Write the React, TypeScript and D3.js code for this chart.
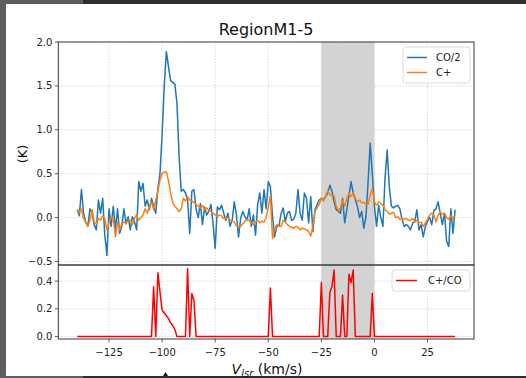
import React from "react";
import * as d3 from "d3";

// velocity grid (km/s)
const V_START = -140;
const V_END = 38;

// CO/2 (K), one value per km/s from -140 to 38
const co2: number[] = [
  0.09, 0.02, 0.32, 0.05, -0.05, -0.1, 0.1, 0.05, -0.08, -0.14,
  0.2, 0.05, 0.22, -0.2, -0.43, 0.1, -0.1, 0.13, -0.14, 0.1,
  -0.18, -0.1, 0.1, -0.07, 0.01, -0.14, 0.01, -0.05, -0.14, 0.41,
  0.3, 0.39, 0.13, 0.2, 0.09, 0.22, 0.13, 0.05, 0.33, 0.5,
  0.95, 1.5, 1.89, 1.72, 1.56, 1.54, 1.52, 1.3, 0.7, 0.3,
  0.32, 0.28, 0.2, -0.18, 0.3, 0.32, 0.1, 0.0, 0.16, -0.08,
  0.12, 0.03, 0.07, 0.15, -0.07, -0.35, 0.12, 0.09, 0.14, 0.05,
  -0.03, 0.05, -0.1, -0.03, 0.18, 0.03, -0.22, -0.01, 0.07, 0.01,
  -0.03, 0.1, -0.1, 0.03, -0.2, 0.15, 0.28, 0.05, 0.32, 0.1,
  0.41, 0.35, 0.02, -0.22, -0.1, -0.1, 0.04, 0.11, -0.05, 0.05,
  0.07, -0.03, -0.02, 0.05, 0.32, 0.05, -0.03, 0.28, 0.22, -0.06,
  0.24, -0.16, 0.09, 0.15, 0.2, 0.22, 0.2, 0.24, 0.28, 0.37,
  0.3, 0.18, 0.09, 0.07, 0.05, 0.22, -0.06, 0.09, 0.25, 0.41,
  0.28, 0.2, 0.13, 0.0, 0.07, -0.12, 0.01, 0.4, 0.85, 0.5,
  0.13, -0.1, 0.14, 0.0, -0.1, 0.45, 0.77, 0.35, 0.13, 0.11,
  0.13, 0.14, 0.1, -0.02, -0.1, -0.08, -0.1, -0.14, -0.06, -0.05,
  0.09, -0.14, -0.08, -0.22, -0.1, -0.04, 0.0, -0.08, 0.08, 0.1,
  0.18, 0.05, -0.08, 0.05, -0.27, -0.33, 0.1, -0.18, 0.09,
];

// C+ (K)
const cplus: number[] = [
  0.09, 0.05, 0.1, -0.01, -0.05, -0.1, -0.03, 0.09, -0.05, -0.07,
  -0.01, -0.03, 0.02, -0.01, -0.14, -0.06, 0.01, -0.01, -0.22, -0.05,
  -0.14, -0.07, -0.05, -0.07, -0.03, -0.03, -0.08, -0.01, 0.03, -0.03,
  0.0, 0.03, 0.1, 0.05, 0.12, 0.18, 0.09, 0.2, 0.3, 0.43,
  0.5, 0.52, 0.52, 0.42, 0.28, 0.17, 0.13, 0.1, 0.07, 0.1,
  0.22, 0.19, 0.24, 0.2, 0.19, 0.17, 0.15, 0.13, 0.11, 0.14,
  0.09, 0.11, 0.08, 0.07, 0.05, 0.03, 0.01, 0.03, 0.02, -0.01,
  -0.01, 0.0, -0.03, -0.04, -0.05, -0.1, -0.1, -0.1, -0.07, -0.04,
  -0.02, -0.03, -0.06, -0.08, -0.05, -0.03, -0.06, -0.04, -0.05, 0.0,
  0.12, 0.25, -0.24, -0.14, -0.08, -0.1, -0.1, -0.03, -0.05, -0.08,
  -0.1, -0.11, -0.12, -0.1, -0.11, -0.14, -0.12, -0.13, -0.14, -0.16,
  -0.21, -0.1, 0.07, 0.11, 0.15, 0.22, 0.19, 0.24, 0.31, 0.26,
  0.25, 0.25, 0.13, 0.08, 0.11, 0.2, 0.13, 0.22, 0.28, 0.24,
  0.28, 0.22, 0.18, 0.2, 0.17, 0.17, 0.15, 0.15, 0.26, 0.33,
  0.18, 0.14, 0.18, 0.16, 0.14, 0.09, 0.07, 0.04, 0.05, 0.06,
  0.0, 0.01, -0.02, -0.01, -0.02, -0.01, -0.03, -0.03, -0.01, -0.05,
  -0.03, -0.06, -0.05, -0.1, -0.06, -0.02, 0.03, 0.05, 0.03, -0.05,
  0.03, 0.06, 0.04, 0.05, 0.0, -0.02, 0.02, -0.01, 0.03,
];

// C+/CO ratio
const ratio: number[] = [
  0, 0, 0, 0, 0, 0, 0, 0, 0, 0,
  0, 0, 0, 0, 0, 0, 0, 0, 0, 0,
  0, 0, 0, 0, 0, 0, 0, 0, 0, 0,
  0, 0, 0, 0, 0, 0, 0.36, 0, 0.46, 0.32,
  0.19, 0.17, 0.15, 0.13, 0.1, 0.08, 0.05, 0, 0, 0,
  0, 0, 0.49, 0, 0.31, 0.26, 0, 0, 0, 0,
  0, 0, 0, 0, 0, 0, 0, 0, 0, 0,
  0, 0, 0, 0, 0, 0, 0, 0, 0, 0,
  0, 0, 0, 0, 0, 0, 0, 0, 0, 0,
  0, 0.35, 0, 0, 0, 0, 0, 0, 0, 0,
  0, 0, 0, 0, 0, 0, 0, 0, 0, 0,
  0, 0, 0, 0, 0, 0.39, 0, 0, 0, 0.32,
  0.36, 0.48, 0, 0, 0, 0.3, 0, 0, 0.45, 0.39,
  0.48, 0, 0, 0, 0, 0, 0, 0, 0, 0.31,
  0, 0, 0, 0, 0, 0, 0, 0, 0, 0,
  0, 0, 0, 0, 0, 0, 0, 0, 0, 0,
  0, 0, 0, 0, 0, 0, 0, 0, 0, 0,
  0, 0, 0, 0, 0, 0, 0, 0, 0,
];

const xTicks = [-125, -100, -75, -50, -25, 0, 25];
const yTopTicks = [-0.5, 0.0, 0.5, 1.0, 1.5, 2.0];
const yBotTicks = [0.0, 0.2, 0.4];
const shadeRange = [-25, 0];
const seriesNames = ["CO/2", "C+", "C+/CO"];
const titleText = "RegionM1-5";

const FONT = "'DejaVu Sans', sans-serif";

export default function App() {
  const vel = d3.range(V_START, V_END + 1);
  const x = d3.scaleLinear().domain([-148.9, 46.9]).range([58.3, 474]);
  const yTop = d3.scaleLinear().domain([-0.54, 2.0]).range([265, 42]);
  const yBot = d3.scaleLinear().domain([-0.0175, 0.514]).range([339, 265.3]);

  const lineTop = (arr: number[]) =>
    d3.line<number>().x((_, i) => x(vel[i])).y((d) => yTop(d))(arr) || "";
  const lineBot = d3.line<number>().x((_, i) => x(vel[i])).y((d) => yBot(d))(ratio) || "";

  const [xl, xr] = x.range();
  const fmt1 = d3.format(".1f");
  const minus = (s: string) => s.replace("-", "\u2212");
  const gridStyle = { stroke: "#c8c8c8", strokeWidth: 0.8, strokeDasharray: "1.2 1.6" };

  return (
    <svg width={526} height={378} style={{ position: "absolute", left: 0, top: 0 }} fontFamily={FONT}>
      <rect x={0} y={0} width={526} height={378} fill="#ffffff" />
      {/* screenshot frame */}
      <rect x={0} y={0} width={526} height={4} fill="#2d2e32" />
      <rect x={0} y={0} width={83} height={4} fill="#5c5c61" />
      <rect x={0} y={376} width={526} height={2} fill="#2d2e32" />
      <rect x={0} y={376} width={83} height={2} fill="#5c5c61" />
      <rect x={0} y={0} width={6} height={378} fill="#5c5c61" />

      {/* top axes grid */}
      {xTicks.map((t) => (
        <line key={"gx" + t} x1={x(t)} x2={x(t)} y1={42} y2={265} {...gridStyle} />
      ))}
      {yTopTicks.map((t) => (
        <line key={"gy" + t} x1={xl} x2={xr} y1={yTop(t)} y2={yTop(t)} {...gridStyle} />
      ))}
      {/* bottom axes grid */}
      {xTicks.map((t) => (
        <line key={"gbx" + t} x1={x(t)} x2={x(t)} y1={265} y2={339} {...gridStyle} />
      ))}
      {yBotTicks.map((t) => (
        <line key={"gby" + t} x1={xl} x2={xr} y1={yBot(t)} y2={yBot(t)} {...gridStyle} />
      ))}

      {/* shaded velocity range */}
      <rect x={x(shadeRange[0])} y={42} width={x(shadeRange[1]) - x(shadeRange[0])} height={297} fill="#d3d3d3" />

      {/* spectra */}
      <path d={lineTop(co2)} fill="none" stroke="#1f77b4" strokeWidth={1.5} strokeLinejoin="round" />
      <path d={lineTop(cplus)} fill="none" stroke="#ff7f0e" strokeWidth={1.5} strokeLinejoin="round" />
      <path d={lineBot} fill="none" stroke="#ff0000" strokeWidth={1.5} strokeLinejoin="round" />

      {/* spines */}
      <rect x={xl} y={42} width={xr - xl} height={223} fill="none" stroke="#3a3a3a" strokeWidth={1} />
      <rect x={xl} y={265} width={xr - xl} height={74} fill="none" stroke="#3a3a3a" strokeWidth={1} />

      {/* top y ticks */}
      {yTopTicks.map((t) => (
        <g key={"ty" + t}>
          <line x1={xl - 3.5} x2={xl} y1={yTop(t)} y2={yTop(t)} stroke="#3a3a3a" strokeWidth={0.8} />
          <text x={xl - 6} y={yTop(t)} dy="0.35em" textAnchor="end" fontSize={10} fill="#222">
            {minus(fmt1(t))}
          </text>
        </g>
      ))}
      {/* bottom y ticks */}
      {yBotTicks.map((t) => (
        <g key={"by" + t}>
          <line x1={xl - 3.5} x2={xl} y1={yBot(t)} y2={yBot(t)} stroke="#3a3a3a" strokeWidth={0.8} />
          <text x={xl - 6} y={yBot(t)} dy="0.35em" textAnchor="end" fontSize={10} fill="#222">
            {fmt1(t)}
          </text>
        </g>
      ))}
      {/* x ticks */}
      {xTicks.map((t) => (
        <g key={"tx" + t}>
          <line x1={x(t)} x2={x(t)} y1={339} y2={342.5} stroke="#3a3a3a" strokeWidth={0.8} />
          <text x={x(t)} y={356} textAnchor="middle" fontSize={10} fill="#222">
            {minus(String(t))}
          </text>
        </g>
      ))}

      {/* title and labels */}
      <text x={266} y={35} textAnchor="middle" fontSize={16} fill="#111">
        {titleText}
      </text>
      <text transform="translate(22,154) rotate(-90)" textAnchor="middle" dy="0.35em" fontSize={13} fill="#111">
        (K)
      </text>
      <text x={267} y={374} textAnchor="middle" fontSize={14} fill="#111">
        <tspan fontStyle="italic">V</tspan>
        <tspan fontStyle="italic" fontSize={10} dy={3}>lsr</tspan>
        <tspan dy={-3}> (km/s)</tspan>
      </text>

      {/* legend top */}
      <rect x={403} y={47} width={67} height={36} rx={3} fill="#ffffff" fillOpacity={0.8} stroke="#d0d0d0" strokeWidth={0.8} />
      <line x1={407} x2={427} y1={57.5} y2={57.5} stroke="#1f77b4" strokeWidth={1.5} />
      <text x={436} y={57.5} dy="0.35em" fontSize={10} fill="#222">{seriesNames[0]}</text>
      <line x1={407} x2={427} y1={72.5} y2={72.5} stroke="#ff7f0e" strokeWidth={1.5} />
      <text x={436} y={72.5} dy="0.35em" fontSize={10} fill="#222">{seriesNames[1]}</text>

      {/* legend bottom */}
      <rect x={392} y={270} width={78} height={21} rx={3} fill="#ffffff" fillOpacity={0.8} stroke="#d0d0d0" strokeWidth={0.8} />
      <line x1={396} x2={417} y1={280.5} y2={280.5} stroke="#ff0000" strokeWidth={1.5} />
      <text x={428} y={280.5} dy="0.35em" fontSize={10} fill="#222">{seriesNames[2]}</text>

      {/* cursor artefact */}
      <path d="M165.5,372 L168,376 L163,376 Z" fill="#111" />
    </svg>
  );
}
